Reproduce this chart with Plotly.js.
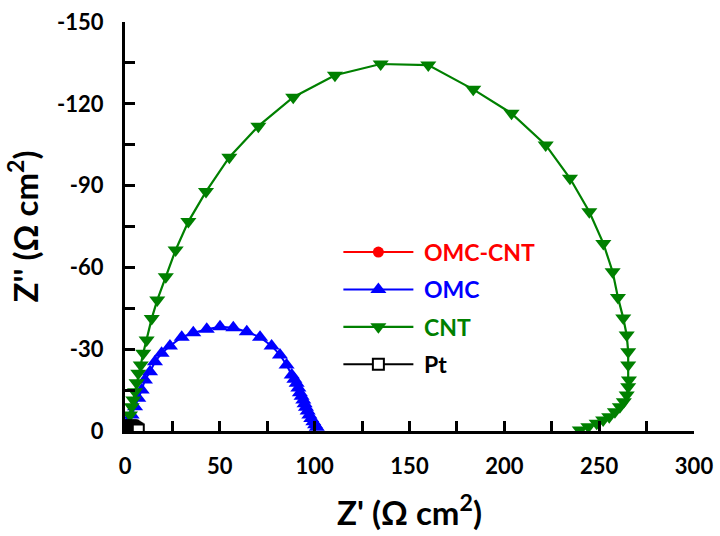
<!DOCTYPE html>
<html>
<head>
<meta charset="utf-8">
<script src="https://cdn.plot.ly/plotly-3.0.1.min.js"></script>
<style>html,body{margin:0;padding:0;background:#fff;}#chart{width:720px;height:536px;}</style>
</head>
<body>
<div id="chart"></div>
<script>
// Series names
const seriesNames = ['OMC-CNT', 'OMC', 'CNT', 'Pt'];

// OMC-CNT (small arc near origin)
const omccntX = [0.5, 0.8, 1.2, 1.7, 2.2, 2.8, 3.4, 4.0, 4.5];
const omccntY = [-0.3, -0.9, -1.4, -1.7, -1.9, -1.8, -1.5, -1.0, -0.4];

// OMC
const omcX = [0.0, 1.7, 3.5, 5.3, 7.0, 8.8, 10.5, 13.2, 15.8, 19.3, 23.7, 29.9, 36.0, 43.1, 50.1, 57.1, 64.2, 71.2, 77.3, 81.7, 85.2, 87.9, 89.3, 90.5, 91.4, 92.2, 93.1, 94.0, 94.7, 95.4, 96.3, 97.2, 98.2, 99.3, 100.2, 101.1];
const omcY = [-1.6, -3.4, -5.9, -8.9, -12.0, -15.0, -18.7, -21.7, -25.4, -28.5, -31.2, -34.4, -36.0, -37.3, -38.2, -37.9, -36.4, -34.4, -31.2, -27.9, -24.2, -20.5, -19.0, -17.5, -15.8, -14.0, -12.7, -11.4, -10.0, -8.7, -7.3, -5.9, -4.6, -3.4, -2.3, -1.4];

// CNT
const cntX = [1.3, 1.7, 2.6, 3.5, 4.4, 5.3, 6.1, 7.0, 8.3, 9.6, 11.4, 14.1, 17.0, 21.5, 26.7, 33.4, 42.7, 55.0, 70.3, 88.7, 110.7, 134.8, 159.9, 183.6, 203.8, 221.8, 234.6, 244.8, 252.2, 257.1, 259.9, 262.7, 264.5, 265.3, 265.3, 265.7, 265.3, 264.5, 263.0, 260.9, 258.3, 255.3, 252.1, 248.7, 244.3, 239.8];
const cntY = [-1.1, -2.8, -5.9, -8.9, -11.4, -14.4, -17.7, -21.2, -24.2, -28.5, -33.4, -41.3, -48.0, -56.6, -66.4, -76.8, -87.8, -100.4, -111.8, -122.4, -130.5, -134.6, -134.2, -125.3, -116.5, -104.9, -92.7, -80.4, -68.8, -58.4, -49.0, -41.4, -35.2, -29.1, -24.2, -18.7, -16.2, -13.2, -10.7, -8.9, -7.1, -5.2, -4.0, -2.8, -1.6, -0.4];

// Pt
const ptX = [0.8, 1.2, 1.6, 2.0, 2.5, 3.0, 3.5, 4.0, 4.6, 5.2, 5.8, 6.4, 7.0];
const ptY = [-0.3, -0.8, -1.2, -1.5, -1.7, -1.8, -1.8, -1.7, -1.5, -1.2, -0.9, -0.6, -0.4];

// Tick labels
const xTickVals = [0, 50, 100, 150, 200, 250, 300];
const xTickText = ['0', '50', '100', '150', '200', '250', '300'];
const yTickVals = [0, -30, -60, -90, -120, -150];
const yTickText = ['0', '-30', '-60', '-90', '-120', '-150'];

const colors = ['#ff0000', '#0000ff', '#008000', '#000000'];
const FONT = 'Lato, "Open Sans", sans-serif';

function nm(i) {
  return '<span style="color:' + colors[i] + '">\u00a0' + seriesNames[i] + '</span>';
}

const traces = [
  {x: omccntX, y: omccntY, name: nm(0), legendgroup: 'a', mode: 'lines+markers',
   line: {color: colors[0], width: 2}, marker: {symbol: 'circle', size: 11, color: colors[0]}},
  {x: omcX, y: omcY, name: nm(1), legendgroup: 'b', mode: 'lines+markers',
   line: {color: colors[1], width: 2}, marker: {symbol: 'triangle-up', size: 14, color: colors[1]}},
  {x: cntX, y: cntY, name: nm(2), legendgroup: 'c', mode: 'lines+markers',
   line: {color: colors[2], width: 2.2}, marker: {symbol: 'triangle-down', size: 14, color: colors[2]}},
  {x: ptX, y: ptY, name: nm(3), legendgroup: 'd', mode: 'lines+markers',
   line: {color: colors[3], width: 2}, marker: {symbol: 'square', size: 11, color: '#ffffff', line: {color: '#000000', width: 2}}}
];

const axisCommon = {
  showline: true, linecolor: '#000', linewidth: 3, mirror: false,
  showgrid: false, zeroline: false,
  ticks: 'inside', ticklen: 10, tickwidth: 3, tickcolor: '#000',
  tickfont: {family: FONT, size: 22, color: '#000', weight: 'bold'},
  tickmode: 'array'
};

const layout = {
  width: 720, height: 536,
  margin: {l: 125, r: 26, t: 22, b: 105},
  paper_bgcolor: '#fff', plot_bgcolor: '#fff',
  showlegend: true,
  legend: {x: 0.375, y: 0.49, xanchor: 'left', yanchor: 'top',
           font: {family: FONT, size: 23, weight: 'bold', color: '#000'},
           bgcolor: 'rgba(0,0,0,0)', traceorder: 'grouped', tracegroupgap: 4.5, itemwidth: 70},
  xaxis: Object.assign({}, axisCommon, {
    range: [0, 300], tickvals: xTickVals, ticktext: xTickText,
    minor: {ticks: 'inside', dtick: 25, ticklen: 10, tickwidth: 3, tickcolor: '#000'},
    ticklabelstandoff: 14,
    title: {text: "Z' (Ω cm<sup>2</sup>)", font: {family: FONT, size: 33, weight: 'bold', color: '#000'}, standoff: 24}
  }),
  yaxis: Object.assign({}, axisCommon, {
    range: [0, -150], tickvals: yTickVals, ticktext: yTickText,
    minor: {ticks: 'inside', dtick: 15, ticklen: 10, tickwidth: 3, tickcolor: '#000'},
    ticklabelstandoff: 14,
    title: {text: "Z'' (Ω cm<sup>2</sup>)", font: {family: FONT, size: 33, weight: 'bold', color: '#000'}, standoff: 9}
  })
};

Plotly.newPlot('chart', traces, layout, {staticPlot: true, displayModeBar: false});
</script>
</body>
</html>
